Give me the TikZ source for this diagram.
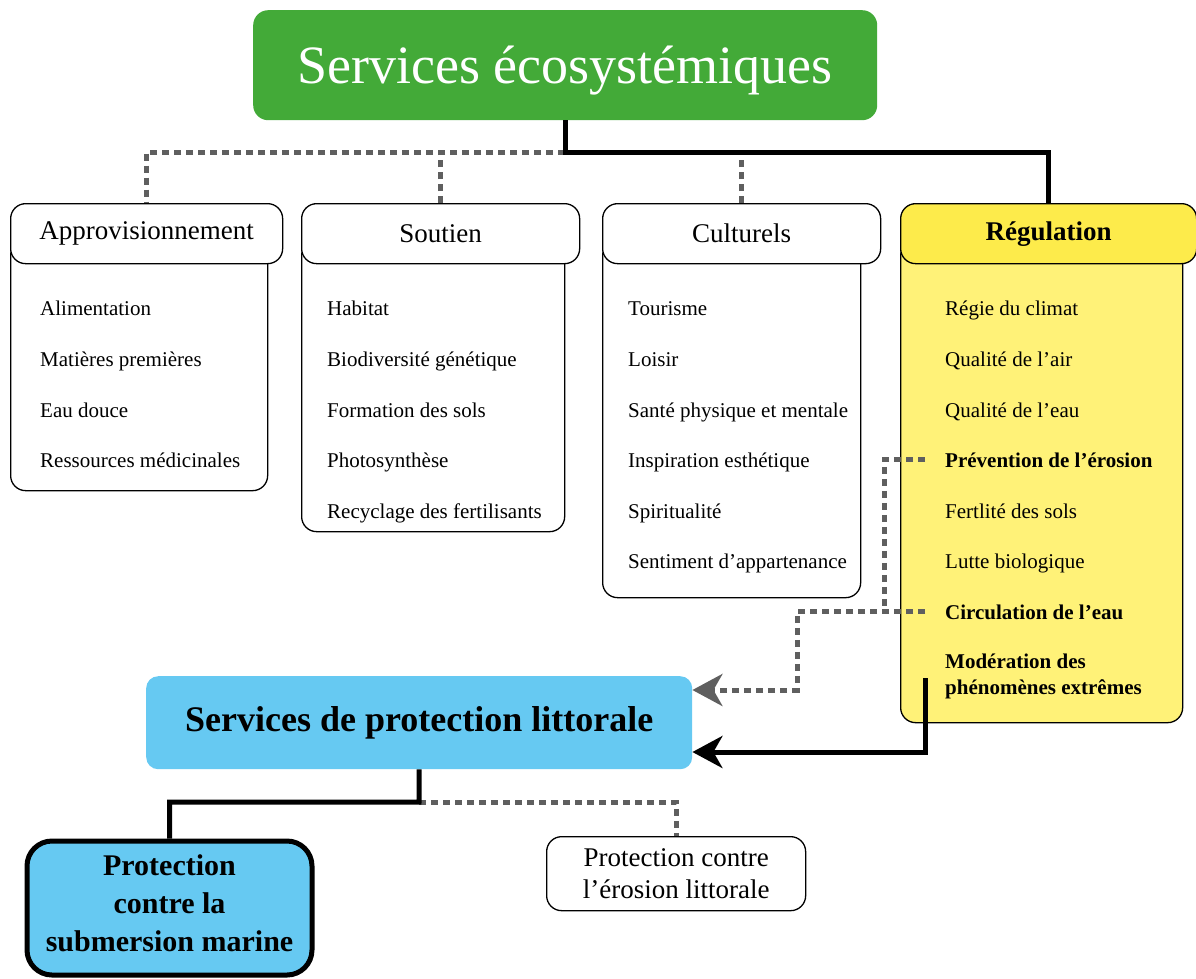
\documentclass[tikz,border=0pt]{standalone}
\usepackage{fontspec}
\setmainfont{Liberation Serif}
\usetikzlibrary{arrows.meta}
\definecolor{ecogreen}{HTML}{43AA38}
\definecolor{litblue}{HTML}{66C9F2}
\definecolor{reghead}{HTML}{FDEB4B}
\definecolor{regbody}{HTML}{FFF278}
\definecolor{dashgray}{HTML}{5F5F5F}
\tikzset{
  hdr/.style={draw=black, line width=1.3pt, rounded corners=15pt, fill=white, anchor=north west, minimum height=60pt, inner sep=0pt, font=\fontsize{27}{31}\selectfont},
  bodybox/.style={draw=black, line width=1.3pt, rounded corners=15pt, fill=white, anchor=north west, inner sep=0pt},
  item/.style={anchor=base west, inner sep=0pt, font=\fontsize{21}{24}\selectfont},
  bitem/.style={item, font=\fontsize{21}{24}\selectfont\bfseries},
  solidc/.style={draw=black, line width=5pt},
  dashc/.style={draw=dashgray, line width=5pt, dash pattern=on 7pt off 5pt},
}
\begin{document}
\begin{tikzpicture}[x=1pt,y=-1pt]
\useasboundingbox (0,0) rectangle (1196,978);

% title
\node[fill=ecogreen, rounded corners=15pt, anchor=north west, minimum width=624pt, minimum height=110pt, inner sep=0pt] (title) at (253,10) {};
\node[inner sep=0pt, text=white, font=\fontsize{54}{60}\selectfont] (titletext) at ([yshift=-5pt]title.center) {Services écosystémiques};

% bodies
\node[bodybox, minimum width=257pt, minimum height=250pt] (bA) at (10,240) {};
\node[bodybox, minimum width=263pt, minimum height=291pt] (bS) at (301,240) {};
\node[bodybox, minimum width=258pt, minimum height=357pt] (bC) at (602,240) {};
\node[bodybox, fill=regbody, minimum width=282pt, minimum height=482pt] (bR) at (900,240) {};

% headers
\node[hdr, minimum width=272pt] (hA) at (10,203) {Approvisionnement};
\node[hdr, minimum width=278pt] (hS) at (301,203) {Soutien};
\node[hdr, minimum width=278pt] (hC) at (602,203) {Culturels};
\node[hdr, minimum width=296pt, fill=reghead, font=\fontsize{27}{31}\selectfont\bfseries] (hR) at (900,203) {Régulation};

% items
\node[item] (a1) at (40,315) {Alimentation};
\node[item] (a2) at (40,366) {Matières premières};
\node[item] (a3) at (40,417) {Eau douce};
\node[item] (a4) at (40,467) {Ressources médicinales};

\node[item] (s1) at (327,315) {Habitat};
\node[item] (s2) at (327,366) {Biodiversité génétique};
\node[item] (s3) at (327,417) {Formation des sols};
\node[item] (s4) at (327,467) {Photosynthèse};
\node[item] (s5) at (327,518) {Recyclage des fertilisants};

\node[item] (c1) at (628,315) {Tourisme};
\node[item] (c2) at (628,366) {Loisir};
\node[item] (c3) at (628,417) {Santé physique et mentale};
\node[item] (c4) at (628,467) {Inspiration esthétique};
\node[item] (c5) at (628,518) {Spiritualité};
\node[item] (c6) at (628,568) {Sentiment d’appartenance};

\node[item] (r1) at (945,315) {Régie du climat};
\node[item] (r2) at (945,366) {Qualité de l’air};
\node[item] (r3) at (945,417) {Qualité de l’eau};
\node[bitem] (r4) at (945,467) {Prévention de l’érosion};
\node[item] (r5) at (945,518) {Fertlité des sols};
\node[item] (r6) at (945,568) {Lutte biologique};
\node[bitem] (r7) at (945,619) {Circulation de l’eau};
\node[bitem, align=left, anchor=north west, font=\fontsize{21}{26}\selectfont\bfseries] (r8) at (945,654) {Modération des\\phénomènes extrêmes};

% littoral boxes
\node[fill=litblue, rounded corners=12pt, anchor=north west, minimum width=546pt, minimum height=93pt, inner sep=0pt, font=\fontsize{36}{40}\selectfont\bfseries] (blue) at (146,676) {Services de protection littorale};
\node[draw=black, line width=5pt, fill=litblue, rounded corners=25pt, anchor=north west, minimum width=285pt, minimum height=134pt, inner sep=0pt] (sub) at (24.5,838.5) {};
\node[inner sep=0pt, align=center, font=\fontsize{30}{38}\selectfont\bfseries] (subtext) at ([yshift=5pt]sub.center) {Protection\\contre la\\submersion marine};
\node[draw=black, line width=1.3pt, fill=white, rounded corners=15pt, anchor=north west, minimum width=259pt, minimum height=74pt, inner sep=0pt, align=center, font=\fontsize{27}{32}\selectfont] (ero) at (546,836) {Protection contre\\l’érosion littorale};

% connectors top
\coordinate (j1) at (565,152);
\coordinate (cj) at (741,160);
\draw[dashc] (j1) -| (hA.north);
\draw[dashc] (hS.north) -- (hS.north |- j1);
\draw[dashc] (hC.north) -- (hC.north |- cj);
\draw[solidc] (title.south -| j1) -- (j1) -| (hR.north);

% regulation to littoral
\coordinate (pv) at (884,0);
\coordinate (k) at (797,690);
\draw[dashc] ([xshift=-20pt]r4.west) -| (pv |- r7.west);
\draw[dashc, -{Stealth[length=30pt, width=32pt, inset=9pt, fill=dashgray]}] ([xshift=-20pt]r7.west) -| (k) -- (k -| blue.east);
\coordinate (m) at (925,678);
\coordinate (mb) at (925,752);
\draw[solidc, -{Stealth[length=30pt, width=32pt, inset=9pt]}] (m) -- (mb) -- (mb -| blue.east);

% bottom
\coordinate (bj) at (419,802);
\draw[dashc] (bj) -| (ero.north);
\draw[solidc] (blue.south) -- (bj) -| (sub.north);
\end{tikzpicture}
\end{document}
